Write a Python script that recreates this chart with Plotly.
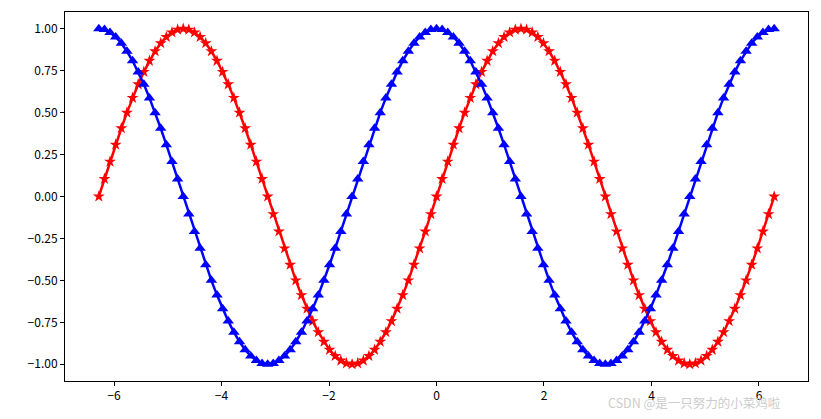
import plotly.graph_objects as go

# x samples from -2*pi to 2*pi (121 points)
x_neg = [-6.283, -6.178, -6.074, -5.969, -5.864, -5.760, -5.655, -5.550, -5.445, -5.341,
         -5.236, -5.131, -5.027, -4.922, -4.817, -4.712, -4.608, -4.503, -4.398, -4.294,
         -4.189, -4.084, -3.979, -3.875, -3.770, -3.665, -3.560, -3.456, -3.351, -3.246,
         -3.142, -3.037, -2.932, -2.827, -2.723, -2.618, -2.513, -2.409, -2.304, -2.199,
         -2.094, -1.990, -1.885, -1.780, -1.676, -1.571, -1.466, -1.361, -1.257, -1.152,
         -1.047, -0.942, -0.838, -0.733, -0.628, -0.524, -0.419, -0.314, -0.209, -0.105]
x_mid = [0.0]
x_pos = [0.105, 0.209, 0.314, 0.419, 0.524, 0.628, 0.733, 0.838, 0.942, 1.047,
         1.152, 1.257, 1.361, 1.466, 1.571, 1.676, 1.780, 1.885, 1.990, 2.094,
         2.199, 2.304, 2.409, 2.513, 2.618, 2.723, 2.827, 2.932, 3.037, 3.142,
         3.246, 3.351, 3.456, 3.560, 3.665, 3.770, 3.875, 3.979, 4.084, 4.189,
         4.294, 4.398, 4.503, 4.608, 4.712, 4.817, 4.922, 5.027, 5.131, 5.236,
         5.341, 5.445, 5.550, 5.655, 5.760, 5.864, 5.969, 6.074, 6.178, 6.283]
x_vals = x_neg + x_mid + x_pos

# red series (sine-shaped)
red_vals = [0.0, 0.105, 0.208, 0.309, 0.407, 0.5, 0.588, 0.669, 0.743, 0.809,
            0.866, 0.914, 0.951, 0.978, 0.995, 1.0, 0.995, 0.978, 0.951, 0.914,
            0.866, 0.809, 0.743, 0.669, 0.588, 0.5, 0.407, 0.309, 0.208, 0.105,
            0.0, -0.105, -0.208, -0.309, -0.407, -0.5, -0.588, -0.669, -0.743, -0.809,
            -0.866, -0.914, -0.951, -0.978, -0.995, -1.0, -0.995, -0.978, -0.951, -0.914,
            -0.866, -0.809, -0.743, -0.669, -0.588, -0.5, -0.407, -0.309, -0.208, -0.105,
            0.0, 0.105, 0.208, 0.309, 0.407, 0.5, 0.588, 0.669, 0.743, 0.809,
            0.866, 0.914, 0.951, 0.978, 0.995, 1.0, 0.995, 0.978, 0.951, 0.914,
            0.866, 0.809, 0.743, 0.669, 0.588, 0.5, 0.407, 0.309, 0.208, 0.105,
            0.0, -0.105, -0.208, -0.309, -0.407, -0.5, -0.588, -0.669, -0.743, -0.809,
            -0.866, -0.914, -0.951, -0.978, -0.995, -1.0, -0.995, -0.978, -0.951, -0.914,
            -0.866, -0.809, -0.743, -0.669, -0.588, -0.5, -0.407, -0.309, -0.208, -0.105,
            0.0]

# blue series (cosine-shaped)
blue_vals = [1.0, 0.995, 0.978, 0.951, 0.914, 0.866, 0.809, 0.743, 0.669, 0.588,
             0.5, 0.407, 0.309, 0.208, 0.105, 0.0, -0.105, -0.208, -0.309, -0.407,
             -0.5, -0.588, -0.669, -0.743, -0.809, -0.866, -0.914, -0.951, -0.978, -0.995,
             -1.0, -0.995, -0.978, -0.951, -0.914, -0.866, -0.809, -0.743, -0.669, -0.588,
             -0.5, -0.407, -0.309, -0.208, -0.105, 0.0, 0.105, 0.208, 0.309, 0.407,
             0.5, 0.588, 0.669, 0.743, 0.809, 0.866, 0.914, 0.951, 0.978, 0.995,
             1.0, 0.995, 0.978, 0.951, 0.914, 0.866, 0.809, 0.743, 0.669, 0.588,
             0.5, 0.407, 0.309, 0.208, 0.105, 0.0, -0.105, -0.208, -0.309, -0.407,
             -0.5, -0.588, -0.669, -0.743, -0.809, -0.866, -0.914, -0.951, -0.978, -0.995,
             -1.0, -0.995, -0.978, -0.951, -0.914, -0.866, -0.809, -0.743, -0.669, -0.588,
             -0.5, -0.407, -0.309, -0.208, -0.105, 0.0, 0.105, 0.208, 0.309, 0.407,
             0.5, 0.588, 0.669, 0.743, 0.809, 0.866, 0.914, 0.951, 0.978, 0.995,
             1.0]

x_ticks = [-6, -4, -2, 0, 2, 4, 6]
x_ticklabels = ["−6", "−4", "−2", "0", "2", "4", "6"]
y_ticks = [1.0, 0.75, 0.5, 0.25, 0.0, -0.25, -0.5, -0.75, -1.0]
y_ticklabels = ["1.00", "0.75", "0.50", "0.25", "0.00", "−0.25", "−0.50", "−0.75", "−1.00"]

fig = go.Figure()
fig.add_trace(go.Scatter(
    x=x_vals, y=red_vals, mode="lines+markers",
    line=dict(color="#ff0000", width=2.5),
    marker=dict(symbol="star", size=9, color="#ff0000", line=dict(width=0)),
    showlegend=False))
fig.add_trace(go.Scatter(
    x=x_vals, y=blue_vals, mode="lines+markers",
    line=dict(color="#0000ff", width=2.5),
    marker=dict(symbol="triangle-up", size=10, color="#0000ff", line=dict(width=0)),
    showlegend=False))

font_family = "Noto Sans CJK SC, DejaVu Sans, sans-serif"
axis_common = dict(showgrid=False, zeroline=False, showline=True, linecolor="black",
                   linewidth=1, mirror=True, ticks="outside", ticklen=4,
                   tickcolor="black", tickwidth=1,
                   tickfont=dict(family=font_family, size=12, color="black"))

fig.update_xaxes(range=[-6.912, 6.912], tickvals=x_ticks, ticktext=x_ticklabels, **axis_common)
fig.update_yaxes(range=[-1.1, 1.1], tickvals=y_ticks, ticktext=y_ticklabels, **axis_common)

fig.add_annotation(text="CSDN @是一只努力的小菜鸡啦", xref="paper", yref="paper",
                   x=0.965, y=-0.057, xanchor="right", yanchor="middle", showarrow=False,
                   font=dict(family=font_family, size=12.5, color="#cccccc"))

fig.update_layout(width=805, height=403, margin=dict(l=57, r=5, t=4, b=30),
                  plot_bgcolor="white", paper_bgcolor="white")

fig.write_html("out.html")
